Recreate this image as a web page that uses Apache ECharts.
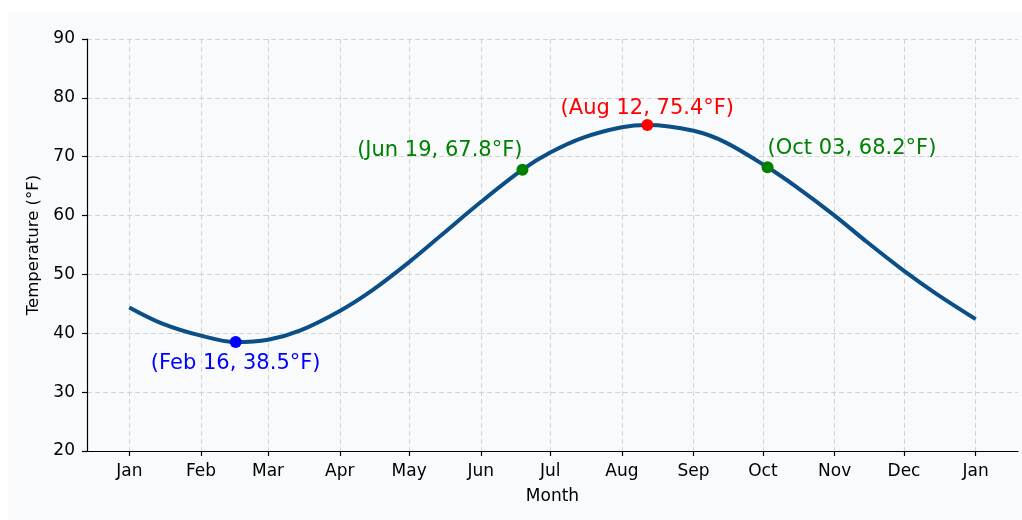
<!DOCTYPE html>
<html>
<head>
<meta charset="utf-8">
<script src="https://cdn.jsdelivr.net/npm/echarts@6/dist/echarts.min.js"></script>
<style>
  html, body { margin: 0; padding: 0; background: #ffffff; }
  #chart { position: absolute; left: 8px; top: 12px; width: 1014px; height: 508px; }
</style>
</head>
<body>
<div id="chart"></div>
<script>
// Month tick positions (day of year 2024, Jan 1 = 0) and their labels
const monthStartDays = [0, 31, 60, 91, 121, 152, 182, 213, 244, 274, 305, 335, 366];
const monthNames = ['Jan', 'Feb', 'Mar', 'Apr', 'May', 'Jun', 'Jul', 'Aug', 'Sep', 'Oct', 'Nov', 'Dec', 'Jan'];

// Seasonal temperature curve, roughly twice a month (day of year, °F)
const curveDays  = [0, 14, 31, 46, 60, 74, 91, 105, 121, 135, 152, 170, 182, 196, 213, 224, 244, 258, 276, 288, 305, 319, 335, 349, 366];
const curveTemps = [44.4, 41.7, 39.6, 38.5, 38.9, 40.5, 43.8, 47.3, 52.1, 56.7, 62.3, 67.8, 70.7, 73.2, 75.0, 75.4, 74.4, 72.4, 68.2, 65.0, 60.0, 55.5, 50.6, 46.7, 42.4];

// Annotated points: coldest, warmest and the two crossings
const markDays  = [46, 170, 224, 276];
const markTemps = [38.5, 67.8, 75.4, 68.2];

const yTicks = { min: 20, max: 90, step: 10 };

function dayToDate(d) {
  let m = 0;
  for (let i = 0; i < 12; i++) if (d >= monthStartDays[i]) m = i;
  const dom = d - monthStartDays[m] + 1;
  return monthNames[m] + ' ' + String(dom).padStart(2, '0');
}

const FONT = 'DejaVu Sans';
const markStyles = [
  { color: '#0000ff', label: { position: 'bottom', distance: 5, align: 'center' } },
  { color: '#008000', label: { position: 'top', distance: 3, align: 'right' } },
  { color: '#ff0000', label: { position: 'top', distance: 0, align: 'center' } },
  { color: '#008000', label: { position: 'top', distance: 2, align: 'left' } }
];

const markData = markDays.map((d, i) => ({
  value: [d, markTemps[i]],
  itemStyle: { color: markStyles[i].color, opacity: 1 },
  label: Object.assign({
    show: true,
    color: markStyles[i].color,
    fontSize: 21,
    fontFamily: FONT,
    formatter: '(' + dayToDate(d) + ', ' + markTemps[i].toFixed(1) + '°F)'
  }, markStyles[i].label)
}));

const chart = echarts.init(document.getElementById('chart'), null, { renderer: 'canvas' });
const axisColor = '#000000';
const textColor = '#000000';
const gridLine = { show: true, lineStyle: { color: '#d3d3d3', width: 1, type: [5, 3] } };

chart.setOption({
  backgroundColor: '#f9fafc',
  animation: false,
  grid: { left: 79, right: 4, top: 27, bottom: 69, containLabel: false },
  xAxis: {
    type: 'value',
    min: -18.3,
    max: 384.3,
    name: 'Month',
    nameLocation: 'middle',
    nameGap: 37,
    nameTextStyle: { fontFamily: FONT, fontSize: 17, color: textColor },
    axisLine: { show: true, onZero: false, lineStyle: { color: axisColor, width: 1.2 } },
    axisTick: { show: true, length: 5, lineStyle: { color: axisColor, width: 1.2 }, customValues: monthStartDays },
    axisLabel: {
      customValues: monthStartDays,
      margin: 12,
      fontFamily: FONT, fontSize: 17, color: textColor,
      formatter: v => monthNames[monthStartDays.indexOf(Math.round(v))] || ''
    },
    splitLine: gridLine
  },
  yAxis: {
    type: 'value',
    min: yTicks.min,
    max: yTicks.max,
    interval: yTicks.step,
    name: 'Temperature (°F)',
    nameLocation: 'middle',
    nameRotate: 90,
    nameGap: 38,
    nameTextStyle: { fontFamily: FONT, fontSize: 16.5, color: textColor },
    axisLine: { show: true, onZero: false, lineStyle: { color: axisColor, width: 1.2 } },
    axisTick: { show: true, length: 5, lineStyle: { color: axisColor, width: 1.2 } },
    axisLabel: { margin: 12, fontFamily: FONT, fontSize: 17, color: textColor },
    splitLine: gridLine
  },
  series: [
    {
      type: 'line',
      data: curveDays.map((d, i) => [d, curveTemps[i]]),
      smooth: 0.33,
      symbol: 'none',
      lineStyle: { color: '#0b4f86', width: 4 },
      z: 2
    },
    {
      type: 'scatter',
      data: markData,
      symbolSize: 12,
      itemStyle: { opacity: 1 },
      z: 3
    }
  ]
});
</script>
</body>
</html>
